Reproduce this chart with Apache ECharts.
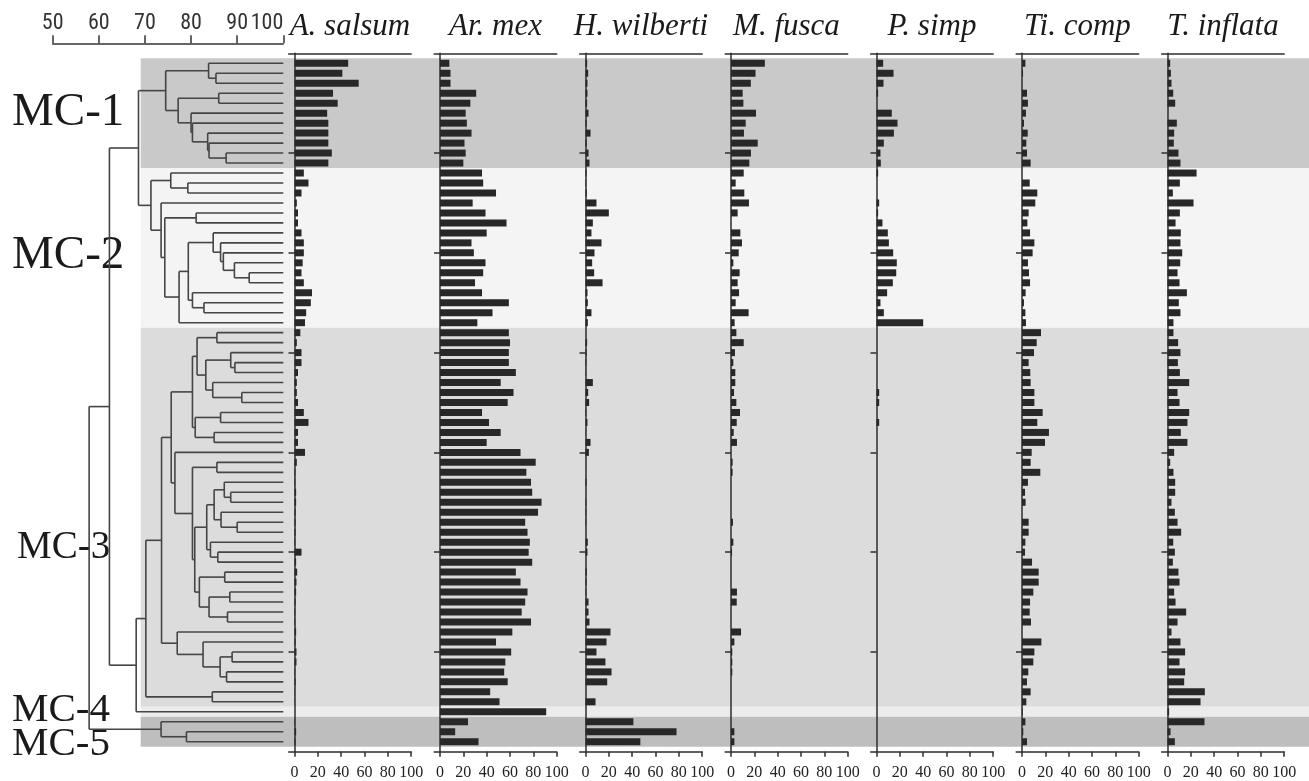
<!DOCTYPE html>
<html><head><meta charset="utf-8">
<script src="https://cdn.jsdelivr.net/npm/echarts@6/dist/echarts.min.js"></script>
<style>html,body{margin:0;padding:0;background:#fff}#c{width:1309px;height:781px}</style>
</head><body><div id="c"></div>
<script>
// ---------------- DATA ----------------
const taxa = ['A. salsum','Ar. mex','H. wilberti','M. fusca','P. simp','Ti. comp','T. inflata'];
const aSalsum = [46,41,55,33,37,28,29,29,29,32,29, 8,12,6,2,3,3,6,8,8,7,6,8,15,14,10,9, 5,2,6,6,3,2,2,3,8,12,3,3,9,2,0.6,0.6,1.4,1.4,0.9,0.9,0.9,0.6,6,1.4,2.3,1.7,1.4,0.9,0.6,0.6,1.4,0.9,1.7,1.7,0.5,0.9,0.3,0.3, 0, 0.5,1.4,0.9];
const arMex = [8,9,9,31,26,22,23,27,21,22,20, 36,37,48,28,39,57,40,27,29,39,37,30,36,59,45,32, 59,60,59,59,65,52,63,58,36,42,52,40,69,82,74,78,79,87,84,73,75,77,76,79,65,69,75,73,70,78,62,48,61,56,55,58,43,51, 91, 24,13,33];
const hWilberti = [1.4,2.3,1.7,1.7,1.4,2.6,0.9,4.3,1.1,2.6,3.4, 0.9,0.5,1.1,9.4,20,6.3,5.1,13.7,7.7,5.7,7.4,14.6,1.7,2,5.1,2, 0,1.4,0.9,0.6,0.3,6.3,2.3,3.1,0.6,1.7,0.3,4.3,2.9,0,0,0.9,0,0.6,0.6,0.6,0,2,1.7,0,1.1,0.9,0.6,2.6,2.6,3.4,21.4,18,9.4,17.1,22.3,18.6,0,8.6, 0, 41,78,47];
const mFusca = [29,21,17,10,10.6,21.4,12.6,11.1,22.9,17.1,15.7, 10.9,4,11.4,15.4,5.7,0,8,9.4,6.6,2,7.4,5.7,6.9,4,15.1,3.1, 4.6,10.9,3.4,2,3.7,3.7,2.6,4.6,7.7,4.9,2.3,5.1,0,1.4,1.4,0,0,0,0,1.7,0,2,0.9,0,0,0,5.1,4.9,0,0,8.6,2.9,1.1,1.1,1.1,0,0,0, 0, 0,2.9,2.9];
const pSimp = [5.7,14.6,6,1.4,0,13.1,18,14.9,6.3,3.4,3.7, 1.4,0,0,2.3,1.4,5.1,9.7,10.6,14.3,17.4,16.9,14,9.1,3.4,6.3,40, 0,0,0,0,0,0,2.3,2.3,0,2.3,0,0,0,0,0,0,0,0,0,0,0,0,0,0,0,0,0,0,0,0,0,0,0,0,0,0,0,0, 0, 0,0,0];
const tiComp = [2.9,0.9,0,4.3,5.1,3.4,1.7,4.9,3.7,4.3,7.4, 0,6.6,13.1,11.4,5.7,4.6,6.9,10.6,9.1,5.1,6,6.9,3.1,1.7,2.9,3.4, 16.3,12.6,10.3,5.7,7.1,7.4,10.6,10.6,17.7,13.1,23.1,19.7,8.3,7.4,15.7,5.1,2.6,3.1,0,5.7,5.7,2.9,2.6,8.6,14.3,14.3,9.7,6.9,6.6,7.7,0,16.6,10.6,9.7,5.4,4.3,7.4,3.7, 0.6, 2.9,1.1,4.3];
const tInflata = [2.3,2.9,3.4,4.9,6.6,0,8,5.7,5.4,9.4,11.1, 24.9,10.6,4.6,22.3,10.6,6.9,11.4,11.1,12.6,10.9,8.6,10.3,16.6,9.7,11.1,5.1, 5.1,9.1,11.1,8.9,10.6,18.6,8.6,10.3,18.6,17.1,11.4,17.1,5.7,2.3,5.1,6.6,6.6,3.4,6.3,8.6,11.7,4.9,6.3,4.6,9.4,10.3,5.7,6.9,16,8.6,3.4,11.1,15.1,10.3,15.1,14.3,32,28.3, 1.4, 31.7,2.6,6.3];
const taxonValues = [aSalsum, arMex, hWilberti, mFusca, pSimp, tiComp, tInflata];

const clusterNames = ['MC-1','MC-2','MC-3','MC-4','MC-5'];
const clusterFirstRow = [0, 11, 27, 65, 66];
const clusterLastRow  = [10, 26, 64, 65, 68];
const clusterLabelRow = [4.9, 19.3, 48.6, 64.8, 68.3];

const dendroTicks = [50, 60, 70, 80, 90, 100];
const abundanceTicks = [0, 20, 40, 60, 80, 100];

// dendrogram: nested [left, right, similarity]; numbers are sample rows
const mc1Tree = [[0,[1,2,85.4],83.8],[[3,4,86.0],[5,[6,[7,[8,[9,10,87.6],83.9],83.6],80.3],80.0],77.2],74.5];
const mc2Tree = [[11,[12,13,79.3],75.6],[14,[[15,16,81.1],[[[17,[18,[19,[20,[21,22,92.6],89.4],87.0],86.4],84.8],[23,[24,25,82.8],80.3],79.4],26,77.4],74.3],73.5],71.3];
const mc3Top = [[[27,28,85.6],[[29,[30,31,89.5],88.6],[32,[33,34,91.0],84.7],83.2],81.3],[[35,36,86.4],[37,38,85.0],80.9],80.3];
const mc3B = [[[42,[43,44,88.6],87.2],[45,[46,47,90.0],86.5],85.0],[48,[49,50,85.8],84.2],83.4];
const mc3C = [[51,52,87.3],[[53,54,88.4],[55,56,87.9],83.9],81.8];
const mc3ABC = [[40,41,85.6],[mc3B, mc3C, 80.8],80.3];
const mc3U = [mc3Top,[39, mc3ABC, 76.5],75.7];
const mc3V = [57,[58,[[59,60,88.9],[61,62,87.7],86.3],82.6],77.0];
const mc3Tree = [[mc3U, mc3V, 73.6],[63,64,84.6],70.2];
const mc5Tree = [66,[67,68,79.0],73.5];
const joinSim = {mc12: 68.6, mc34: 68.1, upper: 62.3, root: 57.9};
const dendroTree = [[[mc1Tree, mc2Tree, joinSim.mc12],[mc3Tree, 65, joinSim.mc34], joinSim.upper], mc5Tree, joinSim.root];

// ---------------- LAYOUT ----------------
const N = aSalsum.length;            // 69 samples
const gridTop = 53.3, gridH = 698.4;
const unitPx = 1.167;                // px per % unit
const panel0 = 294.5, panelStep = 145.5;
const bandColors = ['#c9c9c9','#f4f4f4','#dcdcdc','#ececec','#bebebe'];
const labelSizes = [47, 47, 39, 41, 41];
const axisColor = '#2e2e2e';

const cats = [''].concat(Array.from({length: N}, (_, i) => 'S' + (i + 1))).concat(['']);

// flatten dendrogram into segments [x1,y1,x2,y2]
const segs = [];
function walk(node) {
  if (typeof node === 'number') return {x: 100, y: node};
  const a = walk(node[0]), b = walk(node[1]), s = node[2];
  segs.push([a.x, a.y, s, a.y]);
  segs.push([b.x, b.y, s, b.y]);
  segs.push([s, a.y, s, b.y]);
  return {x: s, y: (a.y + b.y) / 2};
}
walk(dendroTree);

const grids = [], xAxes = [], yAxes = [], series = [], graphics = [];
// background grid (bands)
grids.push({left: 140.7, top: gridTop, width: 1309 - 140.7, height: gridH});
xAxes.push({type: 'value', gridIndex: 0, min: 0, max: 1, show: false});
yAxes.push({type: 'value', gridIndex: 0, min: -1, max: N, inverse: true, show: false});
series.push({
  type: 'custom', xAxisIndex: 0, yAxisIndex: 0, z: -10, silent: true,
  data: clusterNames.map((n, i) => [clusterFirstRow[i] - 0.5, clusterLastRow[i] + 0.5, i]),
  renderItem: (params, api) => {
    const p1 = api.coord([0, api.value(0)]), p2 = api.coord([1, api.value(1)]);
    return {type: 'rect', shape: {x: p1[0], y: p1[1], width: p2[0] - p1[0], height: p2[1] - p1[1]},
            style: {fill: bandColors[api.value(2)]}};
  }
});

// dendrogram grid
grids.push({left: 52.7, top: gridTop, width: 230.6, height: gridH});
xAxes.push({type: 'value', gridIndex: 1, min: 50, max: 100, interval: 10, position: 'top', offset: 10,
  axisLine: {show: true, onZero: false, lineStyle: {color: '#333', width: 1.5}},
  axisTick: {show: true, inside: false, length: 8, lineStyle: {color: '#333', width: 1.5}},
  axisLabel: {show: true, customValues: dendroTicks, showMaxLabel: true, showMinLabel: true, margin: 9,
    fontSize: 22, color: '#333', alignMaxLabel: 'right',
    fontFamily: '"Liberation Sans Narrow","Roboto Condensed","DejaVu Sans Condensed",sans-serif'},
  splitLine: {show: false}});
yAxes.push({type: 'value', gridIndex: 1, min: -1, max: N, inverse: true, show: false});
series.push({
  type: 'custom', xAxisIndex: 1, yAxisIndex: 1, silent: true, z: 3, clip: false,
  data: segs,
  renderItem: (params, api) => {
    const p1 = api.coord([api.value(0), api.value(1)]), p2 = api.coord([api.value(2), api.value(3)]);
    return {type: 'line', shape: {x1: p1[0], y1: p1[1], x2: p2[0], y2: p2[1]},
            style: {stroke: '#454545', lineWidth: 1.6}};
  }
});
// cluster labels
series.push({
  type: 'custom', xAxisIndex: 1, yAxisIndex: 1, silent: true, z: 2, clip: false,
  data: clusterNames.map((n, i) => [50, clusterLabelRow[i], i]),
  renderItem: (params, api) => {
    const i = api.value(2);
    const p = api.coord([50, api.value(1)]);
    return {type: 'text', x: i === 2 ? 17 : 12, y: p[1],
      style: {text: clusterNames[i], fill: '#1a1a1a', font: labelSizes[i] + 'px "Liberation Serif"',
              align: 'left', verticalAlign: 'middle'}};
  }
});

// panels
taxa.forEach((t, k) => {
  const x0 = panel0 + panelStep * k;
  const gi = 2 + k;
  grids.push({left: x0 - 5 * unitPx, top: gridTop, width: 105 * unitPx, height: gridH});
  const xb = xAxes.length;
  xAxes.push({type: 'value', gridIndex: gi, min: -5, max: 100, position: 'bottom',
    axisLine: {show: true, onZero: false, lineStyle: {color: axisColor, width: 1.5}},
    axisTick: {show: true, customValues: abundanceTicks, length: 5, lineStyle: {color: axisColor, width: 1.5}},
    axisLabel: {show: true, customValues: abundanceTicks, margin: 13, fontSize: 16, color: '#222',
      fontFamily: '"Liberation Serif",serif'},
    splitLine: {show: false}});
  xAxes.push({type: 'value', gridIndex: gi, min: -5, max: 100, position: 'top',
    axisLine: {show: true, onZero: false, lineStyle: {color: axisColor, width: 1.5}},
    axisTick: {show: false}, axisLabel: {show: false}, splitLine: {show: false}});
  yAxes.push({type: 'category', gridIndex: gi, data: cats, inverse: true, boundaryGap: false,
    axisLine: {show: true, onZero: true, onZeroAxisIndex: xb, lineStyle: {color: axisColor, width: 1.5}},
    axisTick: {show: true, length: 6, interval: (i) => i % 10 === 0 && i > 0 && i < N + 1,
      lineStyle: {color: axisColor, width: 1.5}},
    axisLabel: {show: false}, splitLine: {show: false}});
  series.push({
    type: 'bar', xAxisIndex: xb, yAxisIndex: gi, barWidth: 7, silent: true,
    itemStyle: {color: '#282828'},
    data: ['-'].concat(taxonValues[k]).concat(['-'])
  });
  graphics.push({type: 'text', x: x0 + 47.5 * unitPx, y: 27,
    style: {text: t, font: 'italic 31px "Liberation Serif"', fill: '#1a1a1a', align: 'center', verticalAlign: 'middle'}});
});

const chart = echarts.init(document.getElementById('c'), null, {renderer: 'canvas'});
chart.setOption({
  backgroundColor: '#ffffff',
  animation: false,
  grid: grids.map(g => Object.assign({containLabel: false, outerBoundsMode: 'none'}, g)),
  xAxis: xAxes, yAxis: yAxes, series: series, graphic: graphics
});
</script></body></html>
